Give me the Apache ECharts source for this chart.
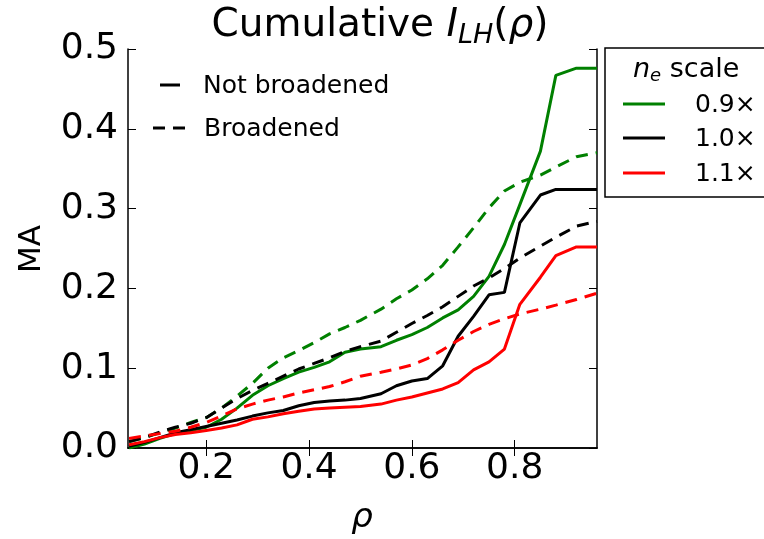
<!DOCTYPE html>
<html><head><meta charset="utf-8">
<script src="https://cdn.jsdelivr.net/npm/echarts@6/dist/echarts.min.js"></script>
<style>html,body{margin:0;padding:0;background:#fff}#c{width:764px;height:539px}</style>
</head><body><div id="c"></div>
<script>
const rho = [0.05,0.08,0.11,0.14,0.17,0.20,0.23,0.26,0.29,0.32,0.35,0.38,0.41,0.44,0.47,0.50,0.54,0.57,0.60,0.63,0.66,0.69,0.72,0.75,0.78,0.81,0.85,0.88,0.92,0.96];
const green_solid = [0.000,0.005,0.012,0.018,0.022,0.026,0.036,0.050,0.066,0.078,0.087,0.095,0.101,0.108,0.120,0.124,0.127,0.135,0.142,0.151,0.163,0.173,0.190,0.215,0.255,0.305,0.372,0.467,0.476,0.476];
const black_solid = [0.002,0.007,0.013,0.019,0.023,0.027,0.031,0.035,0.040,0.044,0.047,0.053,0.057,0.059,0.060,0.062,0.068,0.078,0.084,0.087,0.103,0.140,0.165,0.192,0.195,0.282,0.317,0.324,0.324,0.324];
const red_solid = [0.004,0.008,0.013,0.017,0.019,0.022,0.025,0.029,0.036,0.039,0.043,0.046,0.049,0.050,0.051,0.052,0.055,0.060,0.064,0.069,0.074,0.082,0.098,0.108,0.124,0.180,0.214,0.241,0.252,0.252];
const green_dashed = [0.008,0.013,0.019,0.025,0.032,0.038,0.050,0.065,0.081,0.100,0.113,0.122,0.132,0.143,0.151,0.160,0.174,0.187,0.198,0.212,0.229,0.252,0.276,0.301,0.322,0.333,0.342,0.352,0.365,0.370];
const black_dashed = [0.008,0.013,0.020,0.026,0.031,0.038,0.050,0.062,0.072,0.081,0.090,0.099,0.106,0.113,0.121,0.127,0.134,0.145,0.156,0.166,0.177,0.190,0.203,0.213,0.225,0.238,0.253,0.264,0.278,0.284];
const red_dashed = [0.012,0.015,0.018,0.021,0.026,0.032,0.040,0.049,0.055,0.060,0.064,0.069,0.073,0.077,0.083,0.090,0.095,0.099,0.104,0.112,0.123,0.135,0.146,0.155,0.162,0.168,0.174,0.179,0.186,0.194];
const xTicks = [0.2,0.4,0.6,0.8];
const scaleLabels = ['0.9×','1.0×','1.1×'];
const colors = ['#008000','#000000','#ff0000'];

const FONT = 'DejaVu Sans';
const DASH = [12,8];
function pts(y){ return rho.map((r,i)=>[r,y[i]]); }
function mk(name,y,color,dashed){
  return {type:'line',name:name,data:pts(y),showSymbol:false,symbol:'none',
    lineStyle:{color:color,width:3,type:dashed?DASH:'solid',cap:'butt'},
    itemStyle:{color:color},animation:false,clip:true};
}
const chart = echarts.init(document.getElementById('c'),null,{renderer:'canvas'});
const axisLineStyle = {color:'#000',width:1.5};
const option = {
  animation:false,
  grid:{left:128,right:167,top:49,bottom:91,containLabel:false},
  xAxis:[
    {type:'value',min:0.048,max:0.96,position:'bottom',
     axisLine:{show:true,lineStyle:axisLineStyle},
     axisTick:{show:true,inside:true,length:8,customValues:xTicks,lineStyle:{color:'#000',width:1}},
     axisLabel:{show:true,customValues:xTicks,formatter:v=>v.toFixed(1),fontFamily:FONT,fontSize:36,color:'#000',margin:3},
     splitLine:{show:false}},
    {type:'value',min:0.048,max:0.96,position:'top',
     axisLine:{show:true,lineStyle:axisLineStyle},
     axisTick:{show:true,inside:true,length:8,customValues:xTicks,lineStyle:{color:'#000',width:1}},
     axisLabel:{show:false},splitLine:{show:false}}
  ],
  yAxis:[
    {type:'value',min:0,max:0.5,interval:0.1,position:'left',
     axisLine:{show:true,lineStyle:axisLineStyle},
     axisTick:{show:true,inside:true,length:8,lineStyle:{color:'#000',width:1}},
     axisLabel:{formatter:v=>v.toFixed(1),fontFamily:FONT,fontSize:36,color:'#000',margin:10},
     splitLine:{show:false}},
    {type:'value',min:0,max:0.5,interval:0.1,position:'right',
     axisLine:{show:true,lineStyle:axisLineStyle},
     axisTick:{show:true,inside:true,length:8,lineStyle:{color:'#000',width:1}},
     axisLabel:{show:false},splitLine:{show:false}}
  ],
  series:[
    mk('0.9 solid',green_solid,colors[0],false),
    mk('1.0 solid',black_solid,colors[1],false),
    mk('1.1 solid',red_solid,colors[2],false),
    mk('0.9 dashed',green_dashed,colors[0],true),
    mk('1.0 dashed',black_dashed,colors[1],true),
    mk('1.1 dashed',red_dashed,colors[2],true)
  ],
  graphic:[
    {type:'text',x:380,y:3,style:{text:'{n|Cumulative }{i|I}{s|LH}{p|(}{i|ρ}{p|)}',align:'center',
      rich:{n:{fontFamily:FONT,fontSize:39,lineHeight:46,fill:'#000'},
            i:{fontFamily:FONT,fontStyle:'italic',fontSize:39,lineHeight:46,fill:'#000'},
            p:{fontFamily:FONT,fontSize:39,lineHeight:46,fill:'#000'},
            s:{fontFamily:FONT,fontStyle:'italic',fontSize:27,lineHeight:27,verticalAlign:'bottom',fill:'#000'}}}},
    {type:'text',x:32,y:249,rotation:Math.PI/2,style:{text:'MA',fontFamily:FONT,fontSize:31,fill:'#000',align:'center',verticalAlign:'middle'}},
    {type:'text',x:362,y:518,style:{text:'ρ',fontFamily:FONT,fontStyle:'italic',fontSize:34,fill:'#000',align:'center',verticalAlign:'middle'}},
    // in-plot legend
    {type:'line',shape:{x1:160,y1:85,x2:180,y2:85},style:{stroke:'#000',lineWidth:3}},
    {type:'text',x:203,y:86,style:{text:'Not broadened',fontFamily:FONT,fontSize:25,fill:'#000',verticalAlign:'middle'}},
    {type:'line',shape:{x1:153,y1:128,x2:191,y2:128},style:{stroke:'#000',lineWidth:3,lineDash:DASH}},
    {type:'text',x:204,y:129,style:{text:'Broadened',fontFamily:FONT,fontSize:25,fill:'#000',verticalAlign:'middle'}},
    // outside legend
    {type:'rect',shape:{x:605,y:48,width:170,height:149},style:{fill:'#fff',stroke:'#000',lineWidth:1.5}},
    {type:'text',x:633,y:70,style:{text:'{i|n}{s|e}{t| scale}',verticalAlign:'middle',
      rich:{i:{fontFamily:FONT,fontStyle:'italic',fontSize:27,lineHeight:30,fill:'#000'},
            s:{fontFamily:FONT,fontStyle:'italic',fontSize:18,lineHeight:18,verticalAlign:'bottom',fill:'#000'},
            t:{fontFamily:FONT,fontSize:27,lineHeight:30,fill:'#000'}}}},
    {type:'line',shape:{x1:623,y1:104,x2:665,y2:104},style:{stroke:colors[0],lineWidth:3}},
    {type:'line',shape:{x1:623,y1:138,x2:665,y2:138},style:{stroke:colors[1],lineWidth:3}},
    {type:'line',shape:{x1:623,y1:173,x2:665,y2:173},style:{stroke:colors[2],lineWidth:3}},
    {type:'text',x:695,y:105,style:{text:scaleLabels[0],fontFamily:FONT,fontSize:25,fill:'#000',verticalAlign:'middle'}},
    {type:'text',x:695,y:139,style:{text:scaleLabels[1],fontFamily:FONT,fontSize:25,fill:'#000',verticalAlign:'middle'}},
    {type:'text',x:695,y:174,style:{text:scaleLabels[2],fontFamily:FONT,fontSize:25,fill:'#000',verticalAlign:'middle'}}
  ]
};
chart.setOption(option);
</script></body></html>
